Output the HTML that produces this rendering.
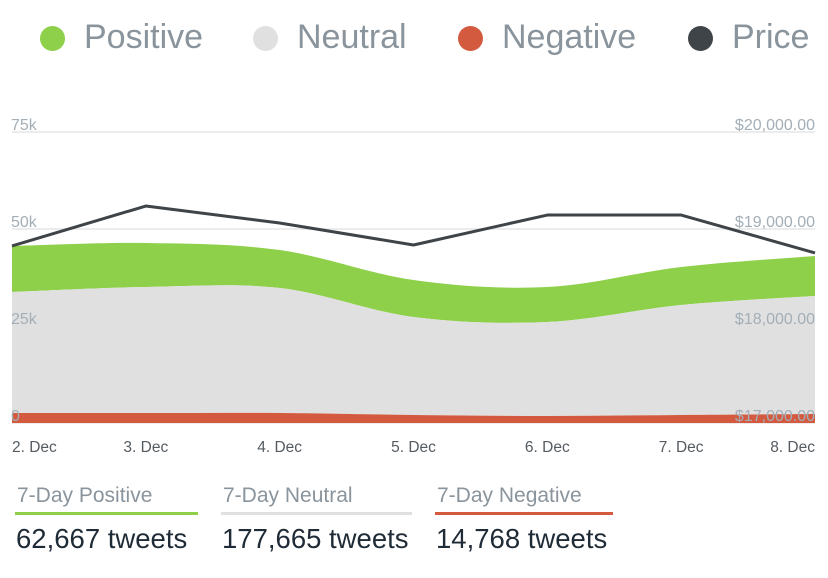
<!DOCTYPE html>
<html><head><meta charset="utf-8"><style>
body{margin:0;width:828px;height:578px;background:#fff;font-family:"Liberation Sans",sans-serif;overflow:hidden;position:relative}
.leg{position:absolute;top:18px;font-size:34px;color:#8a949c;white-space:nowrap}
.dot{position:absolute;top:26px;width:25px;height:25px;border-radius:50%}
.stat{position:absolute;top:484px}
.stat .t{font-size:21px;color:#8a949c;padding:0 0 4px 2px;border-bottom:3px solid;white-space:nowrap}
.stat .v{font-size:27.5px;color:#1f2b36;margin-top:8px;padding-left:1px;white-space:nowrap}
</style></head><body>
<div class="dot" style="left:40px;background:#8fd04a"></div>
<div class="leg" style="left:84px">Positive</div>
<div class="dot" style="left:253px;background:#e0e0e0"></div>
<div class="leg" style="left:297px">Neutral</div>
<div class="dot" style="left:458px;background:#d35a3e"></div>
<div class="leg" style="left:502px">Negative</div>
<div class="dot" style="left:688px;background:#3f4448"></div>
<div class="leg" style="left:732px">Price</div>

<svg id="chart" width="828" height="470" style="position:absolute;left:0;top:0"></svg>

<div class="stat" style="left:15px;width:183px"><div class="t" style="border-color:#8fd04a">7-Day Positive</div><div class="v">62,667 tweets</div></div>
<div class="stat" style="left:221px;width:191px"><div class="t" style="border-color:#e0e0e0">7-Day Neutral</div><div class="v">177,665 tweets</div></div>
<div class="stat" style="left:435px;width:178px"><div class="t" style="border-color:#d35a3e">7-Day Negative</div><div class="v">14,768 tweets</div></div>

<script>
const categories=["2. Dec","3. Dec","4. Dec","5. Dec","6. Dec","7. Dec","8. Dec"];
const negative=[2580,2580,2580,2060,1800,2060,2320];
const neutral=[31180,32470,32210,25260,24220,28350,30410];
const positive=[11850,11340,9790,9540,9020,9790,10310];
const price=[18825,19237,19062,18835,19144,19144,18753];
const leftTicks=[0,25000,50000,75000];
const leftTickLabels=["0","25k","50k","75k"];
const rightTicks=[17000,18000,19000,20000];
const rightTickLabels=["$17,000.00","$18,000.00","$19,000.00","$20,000.00"];

const NS="http://www.w3.org/2000/svg";
const svg=document.getElementById('chart');
const X0=12,X1=815,Y0=423,Y75=132;
const xs=i=>X0+(X1-X0)*i/(categories.length-1);
const yl=v=>Y0-(Y0-Y75)*v/75000;
const yr=v=>Y0-(Y0-Y75)*(v-17000)/3000;
function mk(tag,attrs){const e=document.createElementNS(NS,tag);for(const k in attrs)e.setAttribute(k,attrs[k]);svg.appendChild(e);return e;}
function smooth(pts){
  let d="M"+pts[0][0]+","+pts[0][1];
  for(let i=0;i<pts.length-1;i++){
    const p0=pts[Math.max(0,i-1)],p1=pts[i],p2=pts[i+1],p3=pts[Math.min(pts.length-1,i+2)];
    const t=0.5/3;
    const c1=[p1[0]+(p2[0]-p0[0])*t,p1[1]+(p2[1]-p0[1])*t];
    const c2=[p2[0]-(p3[0]-p1[0])*t,p2[1]-(p3[1]-p1[1])*t];
    d+=" C"+c1+" "+c2+" "+p2;
  }
  return d;
}
function band(lo,hi,fill,name){
  const top=hi.map((v,i)=>[xs(i),yl(v)]);
  const bot=lo.map((v,i)=>[xs(i),yl(v)]).reverse();
  const d=smooth(top)+" L"+bot[0]+" "+smooth(bot).slice(1)+" Z";
  const p=mk('path',{d:d,fill:fill});
  
  
}
leftTicks.forEach((v,i)=>{
  const l=mk('line',{x1:X0,x2:X1,y1:yl(v),y2:yl(v),stroke:'#e6e6e6','stroke-width':1.5});
  
  
});
const s1=negative.map((v,i)=>v), s2=negative.map((v,i)=>v+neutral[i]), s3=s2.map((v,i)=>v+positive[i]);
band(s2,s3,'#8fd04a','positive-area');
band(s1,s2,'#e0e0e0','neutral-area');
band(negative.map(()=>0),s1,'#d35a3e','negative-area');
leftTicks.forEach((v,i)=>{
  const t=mk('text',{x:X0-1,y:yl(v)-2,fill:'#a3aeb7','font-size':16});
  t.textContent=leftTickLabels[i];
  
  
});
rightTicks.forEach((v,i)=>{
  const t=mk('text',{x:X1,y:yr(v)-2,fill:'#a3aeb7','font-size':16,'text-anchor':'end'});
  t.textContent=rightTickLabels[i];
  
  
});
const pl=mk('polyline',{points:price.map((v,i)=>xs(i)+","+yr(v)).join(" "),fill:'none',stroke:'#3f4448','stroke-width':3,'stroke-linejoin':'round'});


categories.forEach((c,i)=>{
  const anchor=i==0?'start':(i==categories.length-1?'end':'middle');
  const t=mk('text',{x:xs(i),y:452,fill:'#555b61','font-size':15.5,'text-anchor':anchor});
  t.textContent=c;
  
  
});
</script>
</body></html>
